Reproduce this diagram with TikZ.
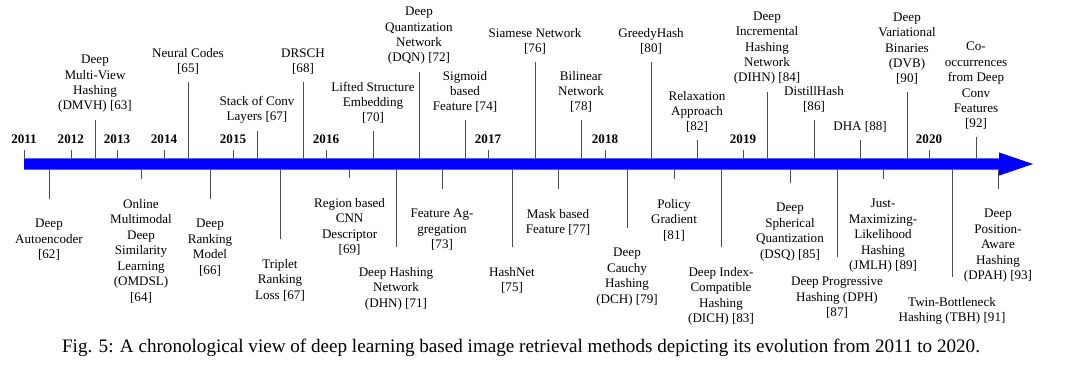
\documentclass[tikz,border=0pt]{standalone}
\usepackage{fontspec}
\setmainfont{Liberation Serif}
\begin{document}
\begin{tikzpicture}[
            year/.style={anchor=south, inner sep=0pt, font=\fontsize{9.3}{11}\selectfont\bfseries},
            topevent/.style={anchor=south, inner sep=0pt, align=center, font=\fontsize{9.3}{11}\selectfont},
            botevent/.style={anchor=north, inner sep=0pt, align=center, font=\fontsize{9.3}{11}\selectfont},
            yeartick/.style={draw=black!70, line width=0.4pt, shorten >=0.15cm},
            upstem/.style={draw=black!70, line width=0.4pt, shorten >=0.175cm},
            downstem/.style={draw=black!70, line width=0.4pt, shorten >=0.5cm},
            caption/.style={anchor=base, inner sep=0pt, font=\fontsize{13.6}{15}\selectfont}
        ]
        \useasboundingbox (0, 4.1) rectangle (27, -5.325);

        % ==========================================
        % TIMELINE BAR
        % ==========================================
        \fill[blue] (0.6, 0.14) -- (24.975, 0.14) -- (24.975, 0.29) -- (25.825, 0)
            -- (24.975, -0.29) -- (24.975, -0.14) -- (0.6, -0.14) -- cycle;

        % Years
        \node[year] (y2011) at (0.6, 0.5) {2011};
        \node[year] (y2012) at (1.77, 0.5) {2012};
        \node[year] (y2013) at (2.925, 0.5) {2013};
        \node[year] (y2014) at (4.1, 0.5) {2014};
        \node[year] (y2015) at (5.825, 0.5) {2015};
        \node[year] (y2016) at (8.15, 0.5) {2016};
        \node[year] (y2017) at (12.2, 0.5) {2017};
        \node[year] (y2018) at (15.125, 0.5) {2018};
        \node[year] (y2019) at (18.575, 0.5) {2019};
        \node[year] (y2020) at (23.225, 0.5) {2020};

        \coordinate (b2011) at (0.6, 0.14);
        \coordinate (b2012) at (1.77, 0.14);
        \coordinate (b2013) at (2.925, 0.14);
        \coordinate (b2014) at (4.1, 0.14);
        \coordinate (b2015) at (5.825, 0.14);
        \coordinate (b2016) at (8.15, 0.14);
        \coordinate (b2017) at (12.2, 0.14);
        \coordinate (b2018) at (15.125, 0.14);
        \coordinate (b2019) at (18.575, 0.14);
        \coordinate (b2020) at (23.225, 0.14);

        \draw[yeartick] (b2011) -- (y2011);
        \draw[yeartick] (b2012) -- (y2012);
        \draw[yeartick] (b2013) -- (y2013);
        \draw[yeartick] (b2014) -- (y2014);
        \draw[yeartick] (b2015) -- (y2015);
        \draw[yeartick] (b2016) -- (y2016);
        \draw[yeartick] (b2017) -- (y2017);
        \draw[yeartick] (b2018) -- (y2018);
        \draw[yeartick] (b2019) -- (y2019);
        \draw[yeartick] (b2020) -- (y2020);

        % ==========================================
        % ABOVE THE BAR
        % ==========================================
        \node[topevent] (dmvh) at (2.375, 1.275) {Deep\\Multi-View\\Hashing\\(DMVH) [63]};
        \node[topevent] (neural) at (4.7, 2.225) {Neural Codes\\{}[65]};
        \node[topevent] (stack) at (6.425, 1.0) {Stack of Conv\\Layers [67]};
        \node[topevent] (drsch) at (7.575, 2.225) {DRSCH\\{}[68]};
        \node[topevent] (lifted) at (9.325, 1.0) {Lifted Structure\\Embedding\\{}[70]};
        \node[topevent] (dqn) at (10.475, 2.475) {Deep\\Quantization\\Network\\(DQN) [72]};
        \node[topevent] (sigmoid) at (11.625, 1.275) {Sigmoid\\based\\Feature [74]};
        \node[topevent] (siamese) at (13.375, 2.725) {Siamese Network\\{}[76]};
        \node[topevent] (bilinear) at (14.525, 1.275) {Bilinear\\Network\\{}[78]};
        \node[topevent] (greedy) at (16.275, 2.725) {GreedyHash\\{}[80]};
        \node[topevent] (relax) at (17.425, 0.775) {Relaxation\\Approach\\{}[82]};
        \node[topevent] (dihn) at (19.175, 1.975) {Deep\\Incremental\\Hashing\\Network\\(DIHN) [84]};
        \node[topevent] (distill) at (20.35, 1.275) {DistillHash\\{}[86]};
        \node[topevent] (dha) at (21.5, 0.775) {DHA [88]};
        \node[topevent] (dvb) at (22.675, 1.975) {Deep\\Variational\\Binaries\\(DVB)\\{}[90]};
        \node[topevent] (cooc) at (24.4, 0.85) {Co-\\occurrences\\from Deep\\Conv\\Features\\{}[92]};

        \coordinate (dmvh-b) at (2.375, 0.14);
        \coordinate (neural-b) at (4.7, 0.14);
        \coordinate (stack-b) at (6.425, 0.14);
        \coordinate (drsch-b) at (7.575, 0.14);
        \coordinate (lifted-b) at (9.325, 0.14);
        \coordinate (dqn-b) at (10.475, 0.14);
        \coordinate (sigmoid-b) at (11.625, 0.14);
        \coordinate (siamese-b) at (13.375, 0.14);
        \coordinate (bilinear-b) at (14.525, 0.14);
        \coordinate (greedy-b) at (16.275, 0.14);
        \coordinate (relax-b) at (17.425, 0.14);
        \coordinate (dihn-b) at (19.175, 0.14);
        \coordinate (distill-b) at (20.35, 0.14);
        \coordinate (dha-b) at (21.5, 0.14);
        \coordinate (dvb-b) at (22.675, 0.14);
        \coordinate (cooc-b) at (24.4, 0.14);

        \draw[upstem] (dmvh-b) -- (dmvh);
        \draw[upstem] (neural-b) -- (neural);
        \draw[upstem] (stack-b) -- (stack);
        \draw[upstem] (drsch-b) -- (drsch);
        \draw[upstem] (lifted-b) -- (lifted);
        \draw[upstem] (dqn-b) -- (dqn);
        \draw[upstem] (sigmoid-b) -- (sigmoid);
        \draw[upstem] (siamese-b) -- (siamese);
        \draw[upstem] (bilinear-b) -- (bilinear);
        \draw[upstem] (greedy-b) -- (greedy);
        \draw[upstem] (relax-b) -- (relax);
        \draw[upstem] (dihn-b) -- (dihn);
        \draw[upstem] (distill-b) -- (distill);
        \draw[upstem] (dha-b) -- (dha);
        \draw[upstem] (dvb-b) -- (dvb);
        \draw[upstem] (cooc-b) -- (cooc);

        % ==========================================
        % BELOW THE BAR
        % ==========================================
        \node[botevent] (dae) at (1.225, -1.375) {Deep\\Autoencoder\\{}[62]};
        \node[botevent] (omdsl) at (3.525, -0.875) {Online\\Multimodal\\Deep\\Similarity\\Learning\\(OMDSL)\\{}[64]};
        \node[botevent] (drm) at (5.25, -1.375) {Deep\\Ranking\\Model\\{}[66]};
        \node[botevent] (trl) at (7.0, -2.375) {Triplet\\Ranking\\Loss [67]};
        \node[botevent] (rcnn) at (8.74, -0.85) {Region based\\CNN\\Descriptor\\{}[69]};
        \node[botevent] (dhn) at (9.9, -2.575) {Deep Hashing\\Network\\(DHN) [71]};
        \node[botevent] (featagg) at (11.05, -1.125) {Feature Ag-\\gregation\\{}[73]};
        \node[botevent] (hashnet) at (12.8, -2.575) {HashNet\\{}[75]};
        \node[botevent] (mask) at (13.95, -1.125) {Mask based\\Feature [77]};
        \node[botevent] (dch) at (15.675, -2.1) {Deep\\Cauchy\\Hashing\\(DCH) [79]};
        \node[botevent] (policy) at (16.85, -0.875) {Policy\\Gradient\\{}[81]};
        \node[botevent] (dich) at (18.025, -2.575) {Deep Index-\\Compatible\\Hashing\\(DICH) [83]};
        \node[botevent] (dsq) at (19.75, -0.975) {Deep\\Spherical\\Quantization\\(DSQ) [85]};
        \node[botevent] (dph) at (20.925, -2.825) {Deep Progressive\\Hashing (DPH)\\{}[87]};
        \node[botevent] (jmlh) at (22.075, -0.875) {Just-\\Maximizing-\\Likelihood\\Hashing\\(JMLH) [89]};
        \node[botevent] (tbh) at (23.8, -3.325) {Twin-Bottleneck\\Hashing (TBH) [91]};
        \node[botevent] (dpah) at (24.95, -1.125) {Deep\\Position-\\Aware\\Hashing\\(DPAH) [93]};

        \coordinate (dae-b) at (1.225, -0.14);
        \coordinate (omdsl-b) at (3.525, -0.14);
        \coordinate (drm-b) at (5.25, -0.14);
        \coordinate (trl-b) at (7.0, -0.14);
        \coordinate (rcnn-b) at (8.74, -0.14);
        \coordinate (dhn-b) at (9.9, -0.14);
        \coordinate (featagg-b) at (11.05, -0.14);
        \coordinate (hashnet-b) at (12.8, -0.14);
        \coordinate (mask-b) at (13.95, -0.14);
        \coordinate (dch-b) at (15.675, -0.14);
        \coordinate (policy-b) at (16.85, -0.14);
        \coordinate (dich-b) at (18.025, -0.14);
        \coordinate (dsq-b) at (19.75, -0.14);
        \coordinate (dph-b) at (20.925, -0.14);
        \coordinate (jmlh-b) at (22.075, -0.14);
        \coordinate (tbh-b) at (23.8, -0.14);
        \coordinate (dpah-b) at (24.95, -0.14);

        \draw[downstem] (dae-b) -- (dae);
        \draw[downstem] (omdsl-b) -- (omdsl);
        \draw[downstem] (drm-b) -- (drm);
        \draw[downstem] (trl-b) -- (trl);
        \draw[downstem] (rcnn-b) -- (rcnn);
        \draw[downstem] (dhn-b) -- (dhn);
        \draw[downstem] (featagg-b) -- (featagg);
        \draw[downstem] (hashnet-b) -- (hashnet);
        \draw[downstem] (mask-b) -- (mask);
        \draw[downstem] (dch-b) -- (dch);
        \draw[downstem] (policy-b) -- (policy);
        \draw[downstem] (dich-b) -- (dich);
        \draw[downstem] (dsq-b) -- (dsq);
        \draw[downstem] (dph-b) -- (dph);
        \draw[downstem] (jmlh-b) -- (jmlh);
        \draw[downstem] (tbh-b) -- (tbh);
        \draw[downstem] (dpah-b) -- (dpah);

        % ==========================================
        % CAPTION
        % ==========================================
        \node[caption] (cap) at (13.025, -4.7) {Fig. 5: A chronological view of deep learning based image retrieval methods depicting its evolution from 2011 to 2020.};

        \end{tikzpicture}
\end{document}
